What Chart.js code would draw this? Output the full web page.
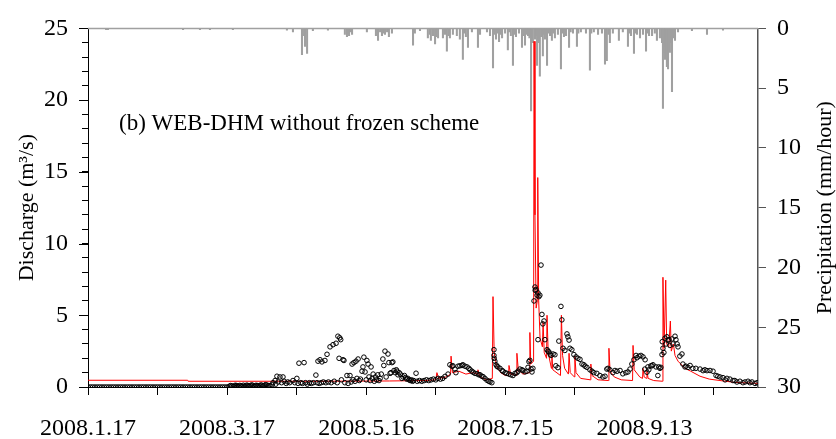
<!DOCTYPE html>
<html>
<head>
<meta charset="utf-8">
<script src="https://cdn.jsdelivr.net/npm/chart.js@4.4.0/dist/chart.umd.min.js"></script>
<style>
html, body { margin: 0; padding: 0; background: #fff; }
#wrap { width: 836px; height: 439px; }
</style>
</head>
<body>
<div id="wrap"><canvas id="grafica" width="836" height="439"></canvas></div>
<script>
// x axis: days since 2008.1.17
const xTickDays = [0, 60, 120, 180, 240];
const xTickLabels = ['2008.1.17', '2008.3.17', '2008.5.16', '2008.7.15', '2008.9.13'];
const dayMax = 289;
const qMax = 25;   // discharge, m3/s
const pMax = 30;   // precipitation, mm/hour (reversed axis)

// observed discharge [day, m3/s]
const observed = [
  [0,0],[1,0],[2,0],[3,0],[4,0],[5,0],[6,0],[7,0],[8,0],[9,0],[10,0],[11,0],[12,0],[13,0],[14,0],[15,0],
  [16,0],[17,0],[18,0],[19,0],[20,0],[21,0],[22,0],[23,0],[24,0],[25,0],[26,0],[27,0],[28,0],[29,0],[30,0],
  [31,0],[32,0],[33,0],[34,0],[35,0],[36,0],[37,0],[38,0],[39,0],[40,0],[41,0],[42,0],[43,0],[44,0],[45,0],
  [46,0],[47,0],[48,0],[49,0],[50,0],[51,0],[52,0],[53,0],[54,0],[55,0],[56,0],[57,0],[58,0],[59,0],[60,0],
  [61,0.05],[61.5,0.1],[62,0.08],[62.5,0.03],[63,0.05],[63.5,0.12],[64,0.1],[64.5,0.04],[65,0.06],[65.5,0.11],
  [66,0.08],[66.5,0.03],[67,0.12],[67.5,0.06],[68,0.06],[68.5,0.13],[69,0.1],[69.5,0.05],[70,0.08],[70.5,0.14],
  [71,0.12],[71.5,0.05],[72,0.06],[72.5,0.12],[73,0.1],[73.5,0.06],[74,0.08],[74.5,0.14],[75,0.12],[75.5,0.07],
  [76,0.1],[76.5,0.16],[77,0.15],[77.5,0.08],[78,0.1],
  [78.5,0.1],[79.4,0.15],[79.8,0.3],[80.7,0.45],[81,0.2],[81.5,0.75],[82,0.35],[82.8,0.7],[83.5,0.3],
  [84.1,0.7],[84.6,0.4],[85.5,0.25],[86.2,0.35],[87,0.3],[88.4,0.45],[89.2,0.3],[90.1,0.6],[90.6,0.25],
  [91,1.66],[91.8,0.3],[92.5,0.25],[93.2,1.7],[93.8,0.3],[94.6,0.2],[95.5,0.3],[96.3,0.25],[97.2,0.3],
  [98.3,0.83],[98.8,0.3],[99.2,1.8],[99.7,0.25],[100.1,1.9],[100.6,0.3],[100.9,1.75],[101.5,0.35],
  [102.2,1.85],[102.6,0.3],[103.1,2.28],[103.7,0.35],[104.4,2.8],[104.9,0.3],[105.7,2.95],[106.2,0.4],
  [107,3.05],[107.5,0.3],[107.8,3.54],[108.3,2.0],[108.6,3.43],[109,3.3],[109.3,0.5],[110,1.9],[110.4,1.85],
  [110.8,0.3],[111.7,0.8],[112.2,0.25],[113,0.8],[113.5,0.35],[113.9,1.6],[114.3,0.5],[114.7,1.7],[115.2,0.4],
  [115.6,1.8],[116,0.6],[116.5,1.95],[117,0.45],[117.5,0.55],[118.2,1.1],[118.6,1.4],[119,2.08],[119.5,1.05],
  [120,0.5],[120.3,1.85],[120.8,1.6],[121.2,0.7],[121.7,0.45],[122.1,1.4],[122.6,0.6],[123,0.9],[123.5,0.4],
  [124,0.7],[124.5,0.5],[125,0.85],[125.5,0.45],[126,0.6],[126.5,0.9],[127.2,1.95],[127.6,1.5],[128.1,2.5],
  [128.6,0.7],[129.4,2.3],[129.8,1.7],[130.3,0.95],[130.7,1.0],[131.1,1.7],[131.5,1.75],[132,1.15],[132.5,1.0],
  [133,1.2],[133.3,1.1],[133.7,0.85],[134.2,1.0],[134.7,0.9],[135.4,0.6],[135.9,0.7],[136.5,0.8],[137,0.65],
  [137.5,0.55],[138,0.6],[138.5,0.5],[139,0.45],[139.5,0.5],[140,0.4],[140.5,0.45],[141.5,0.96],[142,0.4],
  [143,0.45],[144,0.4],[145,0.45],[146,0.5],[147,0.45],[148,0.5],[149,0.55],[150,0.5],[151,0.6],[152,0.55],
  [153,0.6],[154,0.74],[155.3,0.9],[156.1,1.55],[157,1.45],[157.4,1.48],[158.3,1.25],[158.7,1.0],[159.6,1.45],
  [160.4,1.48],[161.3,1.5],[161.7,1.55],[162.6,1.45],[163.5,1.4],[164.3,1.3],[164.8,1.2],[165.6,1.1],
  [166.1,1.03],[166.9,0.95],[167.8,0.92],[168.6,0.85],[169.1,0.85],[169.9,0.75],[170.4,0.72],[171.2,0.6],
  [172.1,0.47],[172.9,0.4],[173.4,0.36],[174.2,0.3],[175.1,2.6],[175.1,2.2],[175.2,2.0],[175.5,1.8],
  [176,1.55],[176.4,1.45],[176.8,1.4],[177.7,1.3],[178.6,1.15],[179,1.1],[179.9,1.0],[180.7,0.95],
  [181.6,0.9],[182.4,0.85],[183.3,0.8],[184.2,0.95],[185,1.0],[185.5,1.1],[186.3,1.25],[187.2,1.2],
  [187.6,1.15],[188.5,1.05],[189.3,1.1],[189.8,1.37],[190.2,1.77],[190.6,1.86],[191.1,1.25],[191.5,1.05],
  [191.9,1.3],[192.4,6.0],[192.8,6.97],[192.9,6.74],[193.2,6.8],[193.7,6.4],[194.1,6.56],[194.1,3.3],
  [194.5,6.3],[194.9,6.4],[195.4,8.5],[195.8,5.06],[196.2,4.4],[196.7,4.6],[197.1,3.3],[198,2.6],
  [198.4,2.5],[198.8,2.45],[199.3,2.3],[199.7,2.2],[200.6,2.3],[201.4,2.25],[201.8,1.48],[202.7,1.35],
  [203.1,3.2],[204,5.62],[204.4,4.68],[204.9,2.7],[205.7,2.55],[206.6,3.7],[207,3.5],[207.5,3.27],
  [207.9,2.7],[208.7,2.6],[209.6,2.26],[210.5,2.1],[211.3,2.0],[212.2,1.93],[213.1,1.6],[213.9,1.55],
  [214.4,1.45],[215.2,1.37],[216.5,1.2],[217.4,1.1],[218.2,1.0],[219.5,0.95],[220.8,0.8],[222.1,0.7],
  [223,0.75],[223.8,1.25],[224.3,1.3],[225.1,1.2],[226.4,1.0],[227.3,1.15],[228.2,1.1],[229.5,1.15],
  [230.7,0.92],[232,1.0],[232.9,1.05],[233.8,1.25],[234.6,1.6],[235.5,1.9],[236.4,2.2],[236.8,2.04],
  [237.7,2.15],[238.5,2.2],[239.4,2.1],[240.2,1.25],[240.3,1.9],[241.1,1.03],[241.5,1.4],[241.9,1.2],
  [242.8,1.48],[243.3,1.48],[243.7,1.55],[245,1.4],[245.8,0.8],[246.2,1.4],[246.7,1.3],[247.1,1.37],
  [247.6,2.26],[247.7,3.16],[248,2.7],[248.4,2.4],[248.9,3.4],[249.3,3.0],[249.7,3.5],[250.2,3.27],
  [250.6,3.3],[251,2.9],[251.9,3.35],[252.3,3.0],[253.2,3.54],[253.6,3.3],[254.1,3.0],[254.5,2.8],
  [255.3,2.15],[256.2,2.3],[256.6,1.6],[257.5,1.4],[257.9,1.45],[258.8,1.37],[259.7,1.5],[260.9,1.3],
  [262.2,1.3],[264,1.25],[265.3,1.14],[266.1,1.2],[267,1.14],[268.3,1.15],[269.6,1.1],[270.9,0.8],
  [271.7,0.75],[272.6,0.7],[273.9,0.65],[274.8,0.5],[275.6,0.6],[276.9,0.55],[278.2,0.45],[279,0.45],
  [279.9,0.35],[281.2,0.4],[282.5,0.3],[283.4,0.35],[284.7,0.4],[285.5,0.3],[286.4,0.35],[287.7,0.25],[288.6,0.3]
];

// simulated discharge, WEB-DHM without frozen scheme [day, m3/s]
const simulated = [
  [0,0.47],[43,0.47],[43.2,0.4],[100,0.4],[130,0.42],[145,0.45],[150,0.5],[150.5,1.0],[151.3,0.6],
  [154.5,0.7],[156.4,0.9],[156.6,2.15],[157.2,1.0],[160,1.1],[163,0.9],[166,1.0],[168,0.9],[168.2,1.2],
  [169,0.7],[172,0.5],[174.4,0.6],[174.7,6.3],[175.2,2.4],[176.2,1.5],[178,1.0],[180,0.8],[181.4,0.8],
  [181.6,1.5],[182.3,0.9],[184.8,0.8],[185,2.35],[185.6,1.2],[187.6,0.9],[190.4,1.0],[190.6,3.8],
  [191,1.6],[192.2,1.8],[192.4,24.1],[192.8,12.0],[193.3,5.5],[193.8,6.0],[194,14.6],[194.4,6.0],
  [195,3.4],[196,2.8],[196.3,4.5],[196.8,2.4],[197.8,2.0],[198,5.0],[198.5,2.4],[199.5,1.6],[199.9,1.3],
  [200.1,2.2],[200.5,1.2],[203.8,0.8],[204.2,5.0],[204.7,2.2],[205.6,1.3],[207.2,0.9],[207.5,2.35],
  [208,1.0],[209.8,0.7],[210,2.15],[210.5,1.0],[212.5,0.6],[216.7,0.5],[216.9,1.6],[217.4,0.8],
  [220,0.5],[224.5,0.45],[224.7,2.7],[225.2,1.1],[227,0.7],[230,0.5],[234.9,0.45],[235.1,2.9],
  [235.6,1.2],[238,0.7],[239.2,0.6],[239.4,1.3],[239.9,0.7],[240.9,0.6],[241.1,1.1],[241.6,0.6],
  [244,0.45],[247.8,0.4],[248,7.65],[248.5,2.7],[249.2,7.45],[249.6,3.0],[250.5,2.8],[251.2,4.6],
  [251.6,2.5],[252.5,3.0],[253.2,2.2],[254.5,1.8],[257.5,1.3],[260,1.1],[264,0.75],[268,0.55],
  [272.6,0.45],[279,0.32],[289,0.25]
];

// hourly precipitation [day, mm/hour]
const precipitation = [
  [7.8,0.1],[8.6,0.1],[41,0.1],[48.3,0.1],[52.6,0.1],[62.5,0.1],
  [85.8,0.15],[88.4,0.3],[92.3,2.2],[93.2,0.6],[93.6,1.5],[94.5,2.1],[97,0.2],[103.5,0.15],
  [110.8,0.5],[111.7,0.7],[112.2,0.4],[112.6,0.6],[113.4,0.3],[113.9,0.5],[120.3,0.3],
  [124.2,0.6],[125.1,1.0],[126,0.3],[126.8,0.6],[127.6,0.4],[128.1,0.5],[129,0.3],[129.8,0.7],[131.1,0.4],
  [140.2,1.4],[141,0.4],[143.2,0.2],
  [146.6,0.8],[147.5,0.5],[147.9,1.0],[148.8,0.6],[149.7,1.3],[150.2,0.7],[151,0.8],
  [153.1,0.8],[154,0.5],[154.8,1.9],[155.5,0.6],[156.1,0.8],[157.4,0.5],[159.1,0.6],[160.4,0.9],
  [161.7,2.6],[162.2,0.4],[163,0.7],[163.9,1.6],[165.6,0.3],
  [168.2,1.6],[169.1,0.5],[172.1,0.3],[173.4,0.6],[174.7,3.3],[175.4,0.5],[176,0.9],[176.6,0.4],
  [177.3,1.1],[178,0.5],[178.6,0.8],[179.9,0.4],[181.1,1.8],[181.7,0.3],[182.4,0.6],[183.3,3.1],
  [184,0.5],[184.6,0.7],[185.9,0.4],
  [187.2,1.6],[187.7,0.6],[188.5,1.4],[189.2,0.5],[189.8,0.6],[190.4,0.8],[191.1,6.9],[191.5,0.7],
  [191.9,1.2],[192.8,0.9],[193.3,0.6],[193.7,3.1],[194.2,1.2],[194.9,4.0],[195.5,0.7],[196.2,2.3],
  [196.6,0.5],[197.1,0.9],[197.5,0.5],[198,3.1],[198.6,0.4],[199.3,0.6],[200.1,1.0],[200.7,0.4],
  [201.4,0.8],[202.7,0.5],
  [204,3.4],[204.6,0.4],[205.3,0.7],[206.2,0.6],[207.5,1.6],[208.2,0.3],[209.2,0.4],[210.9,1.5],
  [211.5,0.4],[212.6,0.3],[214.8,0.4],[216.5,3.5],[217.1,0.4],[218.2,0.3],[220,0.5],[221.7,0.4],
  [223,3.0],[223.4,0.8],[223.8,2.7],[224.5,0.5],[225.1,1.2],[226.4,0.4],[229,1.0],[230.7,0.3],
  [232.9,1.5],[233.5,0.4],[234.2,0.6],[235.5,2.1],[236.1,0.4],[236.8,0.5],[238.1,0.8],[239.4,0.5],
  [240.7,1.9],[241.3,0.4],[242,0.6],[243.3,0.6],[244.5,0.4],[245.4,1.0],[246.7,0.8],
  [247.6,1.2],[248,6.7],[248.4,2.0],[248.9,2.6],[249.3,1.5],[249.7,3.2],[250.2,3.4],[250.6,1.4],
  [251,2.0],[251.5,1.2],[251.9,5.3],[252.4,0.8],[253.2,1.0],[254.5,0.3],[260.5,0.2],[267,0.5],[273.9,0.15]
];

const serif = "'Liberation Serif', 'Times New Roman', serif";

const extras = {
  id: 'extras',
  beforeDatasetsDraw(chart) {
    const { ctx, chartArea: a } = chart;
    ctx.save();
    ctx.strokeStyle = '#a0a0a0';
    ctx.lineWidth = 1.5;
    ctx.beginPath();
    ctx.moveTo(a.left, a.top);
    ctx.lineTo(a.right, a.top);
    ctx.stroke();
    ctx.restore();
  },
  afterDraw(chart) {
    const { ctx, chartArea: a, scales } = chart;
    ctx.save();
    // longer ticks at the labelled discharge values
    ctx.strokeStyle = '#000';
    ctx.lineWidth = 1;
    scales.y.ticks.forEach(t => {
      if (t.value % 5 !== 0) return;
      const py = Math.round(scales.y.getPixelForValue(t.value)) + 0.5;
      ctx.beginPath();
      ctx.moveTo(a.left - 9, py);
      ctx.lineTo(a.left, py);
      ctx.stroke();
    });
    ctx.fillStyle = '#000';
    ctx.font = '23px ' + serif;
    ctx.textAlign = 'left';
    ctx.textBaseline = 'middle';
    ctx.fillText('(b) WEB-DHM without frozen scheme', a.left + 31, 124);

    const mid = (a.top + a.bottom) / 2;
    ctx.font = '22px ' + serif;
    ctx.textAlign = 'center';
    ctx.save();
    ctx.translate(27, mid);
    ctx.rotate(-Math.PI / 2);
    ctx.fillText('Discharge (m\u00b3/s)', 0, 0);
    ctx.restore();
    ctx.save();
    ctx.translate(825, mid);
    ctx.rotate(-Math.PI / 2);
    ctx.fillText('Precipitation (mm/hour)', 0, 0);
    ctx.restore();
    ctx.restore();
  }
};

const graph = document.querySelector('#grafica');

new Chart(graph, {
  type: 'line',
  data: {
    datasets: [
      {
        label: 'Observed',
        type: 'line',
        data: observed.map(p => ({ x: p[0], y: p[1] })),
        showLine: false,
        pointRadius: 2.3,
        pointBorderWidth: 1,
        pointBorderColor: '#000',
        pointBackgroundColor: 'rgba(0,0,0,0)',
        yAxisID: 'y',
        order: 1
      },
      {
        label: 'Simulated',
        type: 'line',
        data: simulated.map(p => ({ x: p[0], y: p[1] })),
        borderColor: '#ff0000',
        borderWidth: 1,
        pointRadius: 0,
        tension: 0,
        fill: false,
        yAxisID: 'y',
        order: 2
      },
      {
        label: 'Precipitation',
        type: 'bar',
        data: precipitation.map(p => ({ x: p[0], y: p[1] })),
        backgroundColor: '#a0a0a0',
        barThickness: 1.4,
        yAxisID: 'y2',
        order: 3
      }
    ]
  },
  options: {
    responsive: false,
    animation: false,
    devicePixelRatio: 1,
    events: [],
    layout: { padding: { top: 15, left: 0, right: 0, bottom: 0 } },
    plugins: { legend: { display: false }, tooltip: { enabled: false } },
    scales: {
      x: {
        type: 'linear',
        min: 0,
        max: dayMax,
        offset: false,
        border: { display: true, color: '#000', width: 1 },
        grid: { drawOnChartArea: false, drawTicks: true, tickLength: 8, color: '#000', offset: false },
        ticks: {
          stepSize: 30,
          includeBounds: false,
          autoSkip: false,
          maxRotation: 0,
          padding: 19,
          color: '#000',
          font: { family: serif, size: 24 },
          callback: v => {
            const i = xTickDays.indexOf(v);
            return i < 0 ? '' : xTickLabels[i];
          }
        },
        afterFit: s => { s.height = 52; }
      },
      y: {
        position: 'left',
        min: 0,
        max: qMax,
        border: { display: true, color: '#000', width: 1 },
        grid: { drawOnChartArea: false, tickLength: 6, color: '#000' },
        ticks: {
          stepSize: 1,
          autoSkip: false,
          padding: 14,
          color: '#000',
          font: { family: serif, size: 24 },
          callback: v => (v % 5 === 0 ? v : '')
        },
        afterFit: s => { s.width = 88; }
      },
      y2: {
        position: 'right',
        min: 0,
        max: pMax,
        reverse: true,
        border: { display: true, color: '#555', width: 1.5 },
        grid: { drawOnChartArea: false, tickLength: 8, color: '#555' },
        ticks: {
          stepSize: 5,
          autoSkip: false,
          padding: 11,
          color: '#000',
          font: { family: serif, size: 24 }
        },
        afterFit: s => { s.width = 78; }
      }
    }
  },
  plugins: [extras]
});
</script>
</body>
</html>
